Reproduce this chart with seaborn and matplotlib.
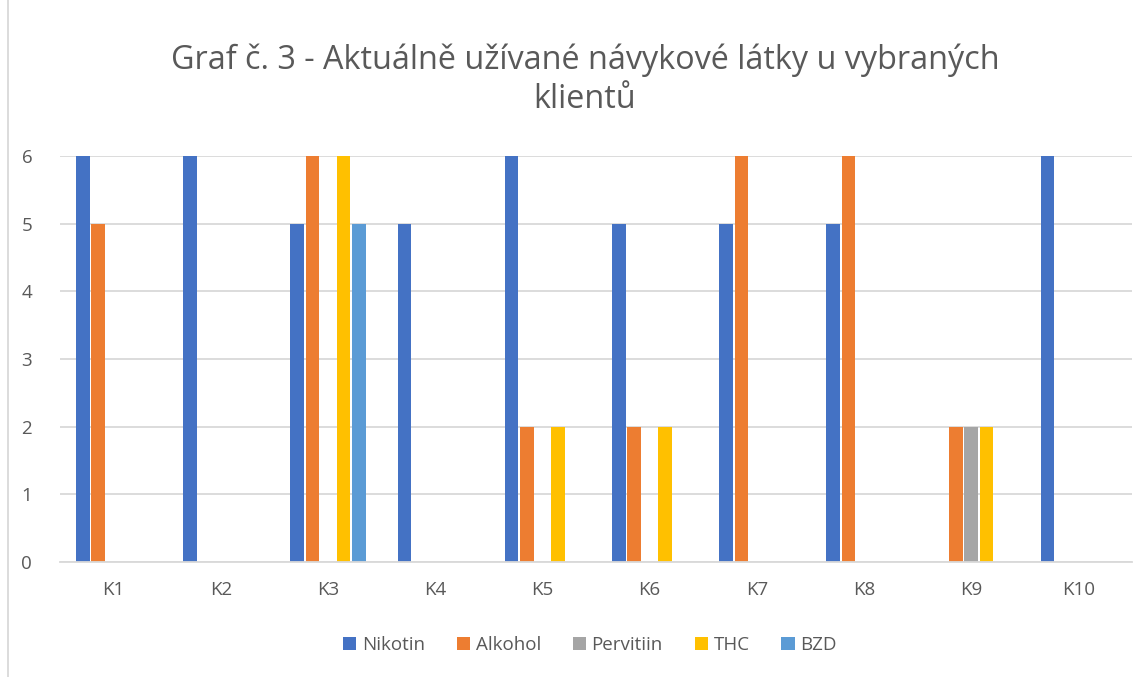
import numpy as np
import pandas as pd
import matplotlib
matplotlib.use("Agg")
import matplotlib.pyplot as plt
from matplotlib.lines import Line2D
from matplotlib.patches import Patch
import seaborn as sns

# data
klienti = ["K1", "K2", "K3", "K4", "K5", "K6", "K7", "K8", "K9", "K10"]
latky = ["Nikotin", "Alkohol", "Pervitiin", "THC", "BZD"]
nikotin = [6, 6, 5, 5, 6, 5, 5, 5, 0, 6]
alkohol = [5, 0, 6, 0, 2, 2, 6, 6, 2, 0]
pervitiin = [0, 0, 0, 0, 0, 0, 0, 0, 2, 0]
thc = [0, 0, 6, 0, 2, 2, 0, 0, 2, 0]
bzd = [0, 0, 5, 0, 0, 0, 0, 0, 0, 0]
barvy = ["#4472C4", "#ED7D31", "#A5A5A5", "#FFC000", "#5B9BD5"]

rows = []
for latka, vals in zip(latky, [nikotin, alkohol, pervitiin, thc, bzd]):
    for k, v in zip(klienti, vals):
        rows.append({"klient": k, "latka": latka, "hodnota": v})
df = pd.DataFrame(rows)

sns.set_style("white")
plt.rcParams["font.family"] = ["Open Sans", "DejaVu Sans"]
txt = "#595959"

fig = plt.figure(figsize=(11.47, 6.77), dpi=100)
ax = fig.add_axes([60 / 1147, 1 - 562 / 677, 1072 / 1147, 406 / 677])

sns.barplot(data=df, x="klient", y="hodnota", hue="latka", order=klienti,
            hue_order=latky, palette=barvy, width=0.72, gap=0.12,
            saturation=1, errorbar=None, ax=ax, legend=False, linewidth=0)

ax.set_ylim(0, 6)
ax.set_xlim(-0.5, len(klienti) - 0.5)
ax.set_yticks(range(0, 7))
ax.yaxis.grid(True, color="#D9D9D9", linewidth=1.3)
ax.set_axisbelow(True)
for s in ["top", "right", "left"]:
    ax.spines[s].set_visible(False)
ax.spines["bottom"].set_color("#D9D9D9")
ax.spines["bottom"].set_linewidth(1.3)
ax.tick_params(axis="both", length=0, labelsize=13.5, labelcolor=txt)
ax.tick_params(axis="y", pad=20)
ax.tick_params(axis="x", pad=14)
ax.set_xlabel("")
ax.set_ylabel("")

fig.text(585 / 1147, 1 - 60 / 677,
         "Graf č. 3 - Aktuálně užívané návykové látky u vybraných",
         ha="center", va="center", fontsize=23.3, color=txt)
fig.text(585 / 1147, 1 - 100 / 677, "klientů",
         ha="center", va="center", fontsize=23.3, color=txt)

handles = [Patch(facecolor=c, edgecolor="none") for c in barvy]
fig.legend(handles, latky, loc="center", bbox_to_anchor=(590 / 1147, 1 - 645 / 677),
           ncol=5, frameon=False, fontsize=13.5, labelcolor=txt,
           handlelength=0.7, handleheight=0.7, handletextpad=0.3, columnspacing=1.7)

fig.add_artist(Line2D([8 / 1147, 8 / 1147], [0, 1], transform=fig.transFigure,
                      color="#D9D9D9", linewidth=1.3))

fig.savefig("out.png", dpi=100)
